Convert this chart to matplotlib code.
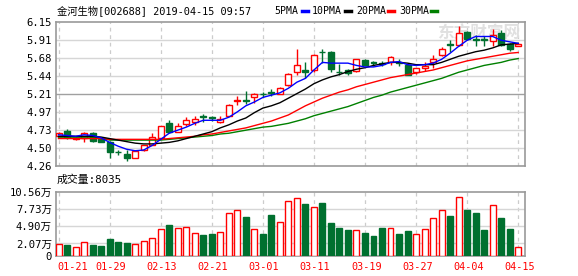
import matplotlib
matplotlib.use('Agg')
import matplotlib.pyplot as plt
from matplotlib.patches import Rectangle

plt.rcParams['font.family'] = ['DejaVu Sans Mono', 'Noto Sans CJK SC']

# trading days 2019-01-21 .. 2019-04-15 (55 sessions)
date_labels = ['01-21', '01-29', '02-13', '02-21', '03-01', '03-11', '03-19', '03-27', '04-04', '04-15']
label_idx = [0, 6, 12, 18, 24, 30, 36, 42, 48, 54]

opens = [4.66, 4.72, 4.62, 4.63, 4.69, 4.62, 4.58, 4.45, 4.42, 4.37,
         4.47, 4.54, 4.63, 4.82, 4.71, 4.81, 4.84, 4.91, 4.90, 4.84,
         4.92, 5.11, 5.12, 5.16, 5.21, 5.23, 5.21, 5.32, 5.49, 5.52,
         5.52, 5.76, 5.76, 5.50, 5.52, 5.51, 5.65, 5.62, 5.61, 5.63,
         5.62, 5.59, 5.50, 5.55, 5.62, 5.72, 5.86, 5.85, 6.02, 5.93,
         5.93, 5.90, 6.00, 5.86, 5.84]
closes = [4.69, 4.64, 4.63, 4.69, 4.59, 4.58, 4.44, 4.44, 4.36, 4.46,
          4.53, 4.64, 4.78, 4.71, 4.78, 4.87, 4.88, 4.90, 4.89, 4.88,
          5.06, 5.13, 5.11, 5.21, 5.20, 5.22, 5.29, 5.47, 5.59, 5.49,
          5.72, 5.75, 5.53, 5.49, 5.48, 5.66, 5.59, 5.61, 5.60, 5.69,
          5.61, 5.46, 5.54, 5.57, 5.66, 5.80, 5.85, 6.00, 5.93, 5.92,
          5.92, 5.98, 5.85, 5.79, 5.86]
highs = [4.70, 4.74, 4.64, 4.70, 4.70, 4.63, 4.59, 4.47, 4.47, 4.47,
         4.54, 4.69, 4.79, 4.86, 4.82, 4.90, 4.92, 4.94, 4.92, 4.91,
         5.07, 5.18, 5.24, 5.22, 5.23, 5.27, 5.30, 5.48, 5.79, 5.62,
         5.73, 5.80, 5.77, 5.60, 5.53, 5.67, 5.67, 5.64, 5.64, 5.70,
         5.66, 5.60, 5.55, 5.62, 5.72, 5.82, 5.92, 6.10, 6.03, 5.98,
         5.96, 6.06, 6.04, 5.88, 5.87]
lows = [4.65, 4.62, 4.60, 4.58, 4.58, 4.57, 4.36, 4.40, 4.32, 4.36,
        4.46, 4.53, 4.62, 4.70, 4.70, 4.78, 4.80, 4.84, 4.85, 4.82,
        4.91, 5.06, 5.08, 5.09, 5.17, 5.18, 5.20, 5.31, 5.45, 5.42,
        5.50, 5.61, 5.50, 5.45, 5.46, 5.50, 5.58, 5.57, 5.57, 5.59,
        5.57, 5.45, 5.47, 5.51, 5.55, 5.70, 5.75, 5.83, 5.91, 5.83,
        5.84, 5.84, 5.84, 5.77, 5.83]
# volume in 万
volumes = [1.97, 1.81, 1.42, 2.24, 1.81, 1.64, 2.79, 2.30, 2.13, 1.92,
           2.41, 2.90, 4.38, 5.09, 4.54, 4.71, 3.72, 3.45, 3.61, 3.89,
           7.17, 7.66, 6.40, 4.38, 3.61, 6.73, 5.58, 9.14, 9.63, 8.54,
           8.15, 8.70, 5.42, 4.60, 4.27, 4.27, 3.78, 3.28, 4.60, 4.54,
           3.61, 4.10, 3.56, 4.38, 6.35, 7.66, 6.57, 9.79, 7.55, 7.06,
           4.27, 8.48, 6.24, 4.43, 1.42]

ma5 = [4.67, 4.66, 4.65, 4.67, 4.66, 4.63, 4.57, 4.52, 4.48, 4.46,
       4.47, 4.53, 4.61, 4.69, 4.73, 4.77, 4.82, 4.86, 4.86, 4.86,
       4.90, 4.97, 5.05, 5.10, 5.16, 5.19, 5.22, 5.28, 5.36, 5.41,
       5.52, 5.62, 5.61, 5.61, 5.61, 5.58, 5.56, 5.56, 5.58, 5.62,
       5.63, 5.59, 5.58, 5.59, 5.61, 5.66, 5.74, 5.83, 5.91, 5.96,
       5.96, 5.96, 5.91, 5.89, 5.87]
ma10 = [4.65, 4.65, 4.65, 4.65, 4.65, 4.64, 4.62, 4.60, 4.58, 4.56,
        4.55, 4.55, 4.56, 4.57, 4.59, 4.62, 4.65, 4.68, 4.71, 4.76,
        4.80, 4.85, 4.89, 4.96, 5.02, 5.05, 5.09, 5.15, 5.21, 5.27,
        5.34, 5.39, 5.43, 5.46, 5.50, 5.53, 5.55, 5.58, 5.60, 5.62,
        5.62, 5.61, 5.59, 5.59, 5.59, 5.62, 5.66, 5.70, 5.73, 5.76,
        5.78, 5.81, 5.85, 5.86, 5.87]
ma20 = [4.62, 4.62, 4.62, 4.62, 4.62, 4.62, 4.61, 4.61, 4.61, 4.61,
        4.61, 4.61, 4.61, 4.62, 4.63, 4.64, 4.65, 4.67, 4.68, 4.70,
        4.72, 4.74, 4.76, 4.79, 4.82, 4.85, 4.89, 4.93, 4.99, 5.05,
        5.10, 5.15, 5.19, 5.23, 5.26, 5.30, 5.33, 5.36, 5.39, 5.42,
        5.44, 5.46, 5.48, 5.50, 5.52, 5.55, 5.58, 5.61, 5.64, 5.66,
        5.68, 5.70, 5.72, 5.74, 5.75]
ma30 = [4.63, 4.63, 4.63, 4.63, 4.63, 4.63, 4.60, 4.60, 4.60, 4.60,
        4.60, 4.60, 4.60, 4.61, 4.62, 4.63, 4.64, 4.65, 4.66, 4.68,
        4.69, 4.71, 4.73, 4.75, 4.77, 4.78, 4.80, 4.82, 4.85, 4.88,
        4.92, 4.95, 4.98, 5.01, 5.04, 5.08, 5.12, 5.16, 5.19, 5.23,
        5.26, 5.29, 5.32, 5.35, 5.38, 5.41, 5.45, 5.49, 5.52, 5.55,
        5.58, 5.60, 5.62, 5.65, 5.67]

price_ticks = [4.26, 4.50, 4.73, 4.97, 5.21, 5.44, 5.68, 5.91, 6.15]
vol_ticks = [0, 2.07, 4.90, 7.73, 10.56]
vol_tick_labels = ['0', '2.07万', '4.90万', '7.73万', '10.56万']

RED = '#ff0000'
GREEN = '#00702f'
W, H = 578, 276


def fx(px):
    return px / W


def fy(py):
    return 1 - py / H


fig = plt.figure(figsize=(W / 100, H / 100), dpi=100)
ax = fig.add_axes([fx(56), fy(166), fx(525) - fx(56), fy(22) - fy(166)])
axv = fig.add_axes([fx(56), fy(256), fx(525) - fx(56), fy(192) - fy(256)])

n = len(closes)
xs = list(range(n))
bw = 0.7

for a in (ax, axv):
    a.set_xlim(-0.3, n - 0.2)
    a.set_xticks([])
    for s in a.spines.values():
        s.set_color('#999999')
        s.set_linewidth(1.2)
    a.tick_params(axis='y', length=0, pad=3, labelsize=7.6, colors='black')
    for i in label_idx:
        a.axvline(i, color='#cccccc', lw=0.9, ls=(0, (3, 3)), zorder=0)

# price panel
ax.set_ylim(price_ticks[0], price_ticks[-1])
ax.set_yticks(price_ticks)
ax.set_yticklabels(['%.2f' % v for v in price_ticks])
for v in price_ticks[1:-1]:
    c = '#a0a0a0' if v == 5.21 else '#d6d6d6'
    ax.axhline(v, color=c, lw=1, zorder=0)

ax.text(0.99, 0.92, '东方财富网', transform=ax.transAxes, ha='right', va='center',
        fontsize=12, color='#e0e0e0', fontweight='bold', zorder=0.5,
        family='Noto Sans CJK SC')

for i in xs:
    o, c, h, l = opens[i], closes[i], highs[i], lows[i]
    up = c >= o
    col = RED if up else GREEN
    ax.vlines(i, l, h, color=col, lw=1, zorder=2)
    bot = min(o, c)
    ht = max(abs(c - o), 0.008)
    ax.add_patch(Rectangle((i - bw / 2, bot), bw, ht, facecolor='white' if up else col,
                           edgecolor=col, lw=1, zorder=3))

ax.plot(xs, ma30, color='#008000', lw=1, zorder=4)
ax.plot(xs, ma20, color=RED, lw=1, zorder=4)
ax.plot(xs, ma10, color='black', lw=1, zorder=4)
ax.plot(xs, ma5, color='#0000ff', lw=1, zorder=4)

# volume panel
axv.set_ylim(0, vol_ticks[-1])
axv.set_yticks(vol_ticks)
axv.set_yticklabels(vol_tick_labels)
for v in vol_ticks[1:-1]:
    axv.axhline(v, color='#d6d6d6', lw=1, zorder=0)
for i in xs:
    up = closes[i] >= opens[i]
    col = RED if up else GREEN
    axv.bar(i, volumes[i], width=bw, facecolor='white' if up else col,
            edgecolor=col, lw=1, zorder=3)

for k, i in enumerate(label_idx):
    ha = 'left' if k == 0 else 'center'
    xpos = i - 0.1 if k == 0 else i + 0.15
    axv.text(xpos, -0.09, date_labels[k], transform=axv.get_xaxis_transform(),
             ha=ha, va='top', color=RED, fontsize=7.3)

# header
fig.text(fx(57), fy(11), '金河生物[002688] 2019-04-15 09:57', ha='left', va='center', fontsize=7.4)
legend_items = [('5PMA', '#0000ff', 274, 302), ('10PMA', 'black', 312, 345),
                ('20PMA', RED, 356, 388), ('30PMA', '#008000', 399, 431)]
for name, col, x0, dx in legend_items:
    fig.text(fx(x0), fy(11), name, ha='left', va='center', fontsize=7.1)
    fig.add_artist(plt.Line2D([fx(dx), fx(dx + 6)], [fy(11), fy(11)], color=col, lw=2.5))

fig.text(fx(57), fy(180), '成交量:8035', ha='left', va='center', fontsize=7.8)

fig.savefig('out.png', dpi=100)
